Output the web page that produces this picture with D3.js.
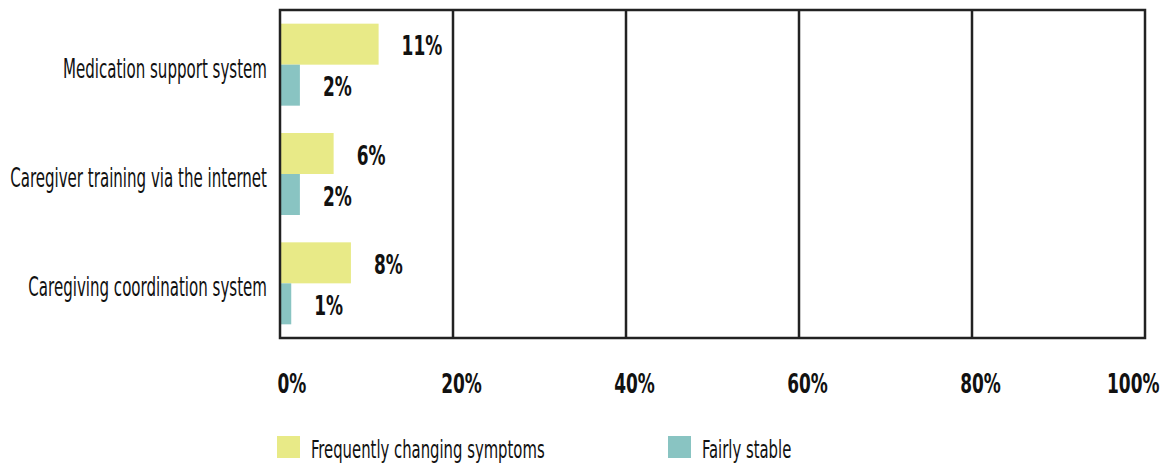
<!DOCTYPE html>
<html>
<head>
<meta charset="utf-8">
<title>chart</title>
<style>
body { margin: 0; background: #fff; }
text { font-family: "Liberation Sans Narrow", "DejaVu Sans Condensed", sans-serif; fill: #111; }
.frame line, .frame rect { stroke: #222; stroke-width: 2.5px; }
</style>
</head>
<body>
<svg width="1171" height="463"></svg>
<script src="https://d3js.org/d3.v7.min.js"></script>
<script>
var categories = ["Medication support system", "Caregiver training via the internet", "Caregiving coordination system"];
var seriesNames = ["Frequently changing symptoms", "Fairly stable"];
var frequentValues = [11.4, 6.2, 8.2];
var stableValues = [2.3, 2.3, 1.3];
var tickValues = [0, 20, 40, 60, 80, 100];
var colors = ["#e8ea87", "#89c4c2"];

var svg = d3.select("svg");
var margin = {left: 280, top: 10, right: 1145, bottom: 338};

var x = d3.scaleLinear().domain([0, 100]).range([margin.left, margin.right]);
var y = d3.scaleBand().domain(categories).range([margin.top, margin.bottom]).paddingInner(0.25).paddingOuter(0.125);
var sub = d3.scaleBand().domain(seriesNames).range([0, y.bandwidth()]);

// the font in the picture is much narrower, so squash text on x
function label(parent, tx, ty, txt, anchor, size, weight, sx) {
  var g = parent.append("g").attr("transform", "translate(" + tx + "," + ty + ") scale(" + sx + ",1)");
  g.append("text")
    .attr("text-anchor", anchor)
    .style("font-size", size + "px")
    .style("font-weight", weight)
    .text(txt);
  return g;
}

var rows = categories.map(function(c, i) {
  return {cat: c, vals: [frequentValues[i], stableValues[i]]};
});

// bars
var bars = svg.append("g");
rows.forEach(function(r) {
  r.vals.forEach(function(v, j) {
    bars.append("rect")
      .attr("x", x(0))
      .attr("y", y(r.cat) + sub(seriesNames[j]))
      .attr("width", x(v) - x(0))
      .attr("height", sub.bandwidth())
      .attr("fill", colors[j]);
    label(svg, x(v) + 23, y(r.cat) + sub(seriesNames[j]) + sub.bandwidth() / 2 + 11, Math.round(v) + "%", "start", 27, "bold", 0.7);
  });
  label(svg, 267, y(r.cat) + y.bandwidth() / 2 + 13, r.cat, "end", 27, "normal", 0.62);
});

// frame + grid
var frame = svg.append("g").attr("class", "frame");
frame.selectAll("line.grid").data(tickValues.slice(1, -1)).enter().append("line")
  .attr("x1", function(d) { return x(d); }).attr("x2", function(d) { return x(d); })
  .attr("y1", margin.top).attr("y2", margin.bottom);
frame.append("rect")
  .attr("x", margin.left).attr("y", margin.top)
  .attr("width", margin.right - margin.left).attr("height", margin.bottom - margin.top)
  .attr("fill", "none");

// x tick labels
var axis = d3.axisBottom(x).tickValues(tickValues).tickFormat(function(d) { return d + "%"; }).tickSize(0);
var ax = svg.append("g").attr("transform", "translate(0," + margin.bottom + ")").call(axis);
ax.select(".domain").remove();
ax.selectAll(".tick text").remove();
ax.selectAll(".tick").each(function(d, i) {
  var anchor = "middle", dx = 8;
  if (i === 0) { anchor = "start"; dx = -3; }
  if (i === tickValues.length - 1) { anchor = "end"; dx = 14; }
  label(d3.select(this), dx, 55, d + "%", anchor, 27, "bold", 0.7);
});

// legend
var legendX = [277, 668];
seriesNames.forEach(function(s, j) {
  svg.append("rect").attr("x", legendX[j]).attr("y", 436).attr("width", 23).attr("height", 22).attr("fill", colors[j]);
  label(svg, legendX[j] + 34, 458, s, "start", 25, "normal", 0.66);
});
</script>
</body>
</html>
